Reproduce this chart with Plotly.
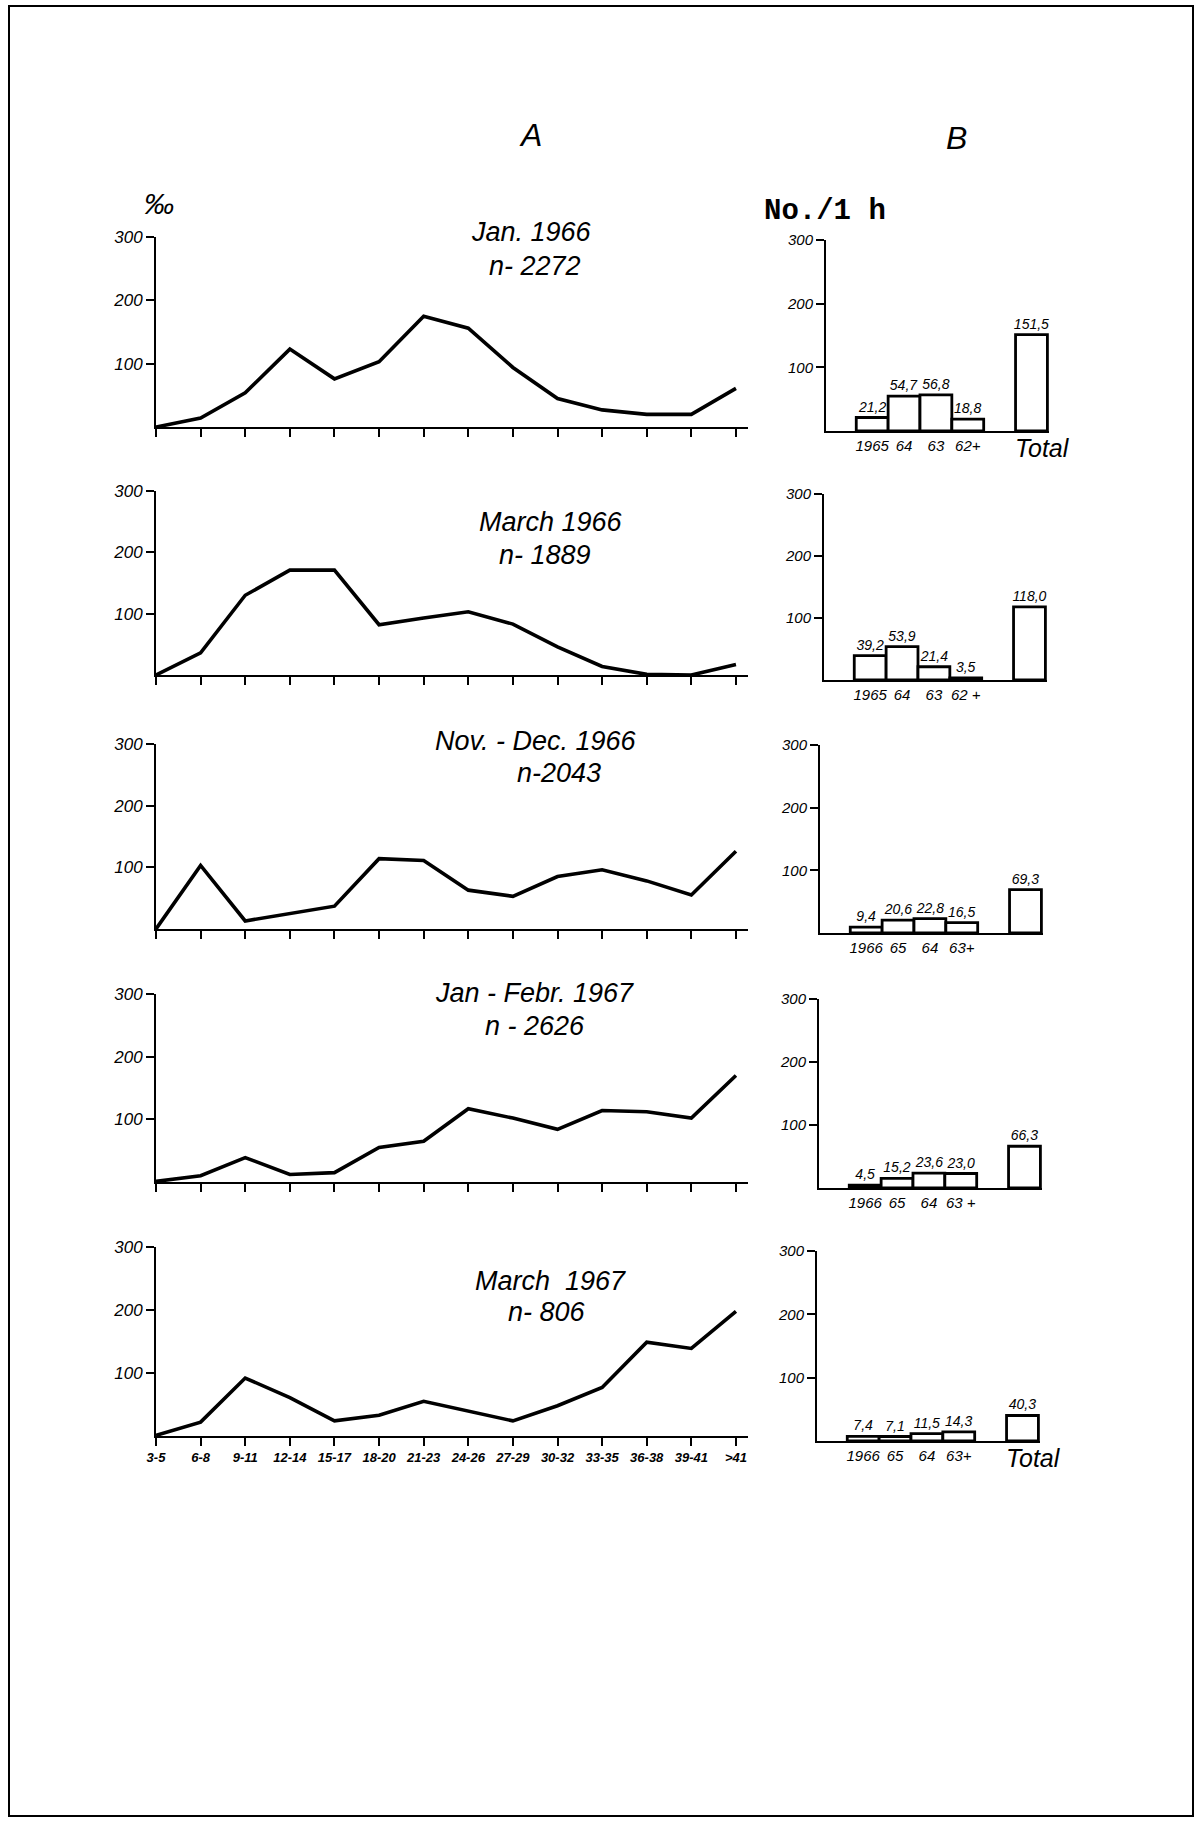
import plotly.graph_objects as go

# ---------------- data ----------------
length_classes = ["3-5", "6-8", "9-11", "12-14", "15-17", "18-20", "21-23",
                  "24-26", "27-29", "30-32", "33-35", "36-38", "39-41", ">41"]

jan_1966 = [0, 14, 54, 123, 76, 103, 175, 156, 94, 45, 27, 20, 20, 61]
march_1966 = [0, 36, 130, 171, 171, 82, 93, 103, 83, 46, 14, 1, 0, 17]
nov_dec_1966 = [0, 103, 13, 25, 37, 114, 111, 63, 53, 85, 96, 78, 55, 126]
jan_feb_1967 = [1, 10, 39, 12, 15, 55, 65, 117, 102, 84, 114, 112, 102, 170]
march_1967 = [1, 22, 92, 61, 24, 33, 55, 39, 24, 48, 77, 149, 139, 198]

series_a = [jan_1966, march_1966, nov_dec_1966, jan_feb_1967, march_1967]
titles_a = ["Jan. 1966", "March 1966", "Nov. - Dec. 1966", "Jan - Febr. 1967", "March&nbsp; 1967"]
n_labels = ["n- 2272", "n- 1889", "n-2043", "n - 2626", "n- 806"]

bars_1 = [21.2, 54.7, 56.8, 18.8, 151.5]
bars_2 = [39.2, 53.9, 21.4, 3.5, 118.0]
bars_3 = [9.4, 20.6, 22.8, 16.5, 69.3]
bars_4 = [4.5, 15.2, 23.6, 23.0, 66.3]
bars_5 = [7.4, 7.1, 11.5, 14.3, 40.3]
series_b = [bars_1, bars_2, bars_3, bars_4, bars_5]

cohort_labels_1 = ["1965", "64", "63", "62+"]
cohort_labels_2 = ["1965", "64", "63", "62 +"]
cohort_labels_3 = ["1966", "65", "64", "63+"]
cohort_labels_4 = ["1966", "65", "64", "63 +"]
cohort_labels_5 = ["1966", "65", "64", "63+"]
cohort_labels = [cohort_labels_1, cohort_labels_2, cohort_labels_3, cohort_labels_4, cohort_labels_5]
total_label_shown = [True, False, False, False, True]

y_ticks = [100, 200, 300]

# ---------------- layout constants ----------------
W, H = 1196, 1825
FONT = "Liberation Sans"
A_X = (156, 748)
A_Y = [(237, 427), (491, 675), (744, 929), (994, 1182), (1247, 1436)]  # (y of 300, y of 0)
B_XL = [826, 824, 820, 819, 817]
B_W = 223
B_Y = [(240, 431), (494, 680), (745, 933), (999, 1188), (1251, 1441)]
TITLE_POS = [((531, 232), (535, 266)), ((551, 522), (545, 555)), ((536, 741), (559, 773)),
             ((534, 993), (535, 1026)), ((550, 1281), (547, 1312))]
bar_pos = [1, 2, 3, 4, 6]


def fx(px):
    return px / W


def fy(py):
    return 1 - py / H


fig = go.Figure()
layout = {}
annotations = []

for i in range(5):
    ka = 2 * i + 1
    kb = 2 * i + 2
    # ----- panel A line -----
    fig.add_trace(go.Scatter(
        x=list(range(len(length_classes))), y=series_a[i], mode="lines",
        line=dict(color="black", width=3.6), cliponaxis=False, showlegend=False,
        xaxis=f"x{ka}", yaxis=f"y{ka}", hoverinfo="skip"))
    last = (i == 4)
    layout[f"xaxis{ka}"] = dict(
        domain=[fx(A_X[0]), fx(A_X[1])], anchor=f"y{ka}", range=[0, 13.27],
        tickmode="array", tickvals=list(range(len(length_classes))),
        ticktext=length_classes, showticklabels=last,
        ticks="outside", ticklen=8, tickwidth=1.5, tickcolor="black",
        showline=True, linecolor="black", linewidth=2, showgrid=False, zeroline=False,
        automargin=False,
        tickfont=dict(family=FONT, size=13, color="black", style="italic", weight="bold"))
    layout[f"yaxis{ka}"] = dict(
        domain=[fy(A_Y[i][1]), fy(A_Y[i][0])], anchor=f"x{ka}", range=[0, 300],
        tickmode="array", tickvals=y_ticks, ticktext=[str(t) for t in y_ticks],
        ticks="outside", ticklen=8, tickwidth=1.5, tickcolor="black",
        showline=True, linecolor="black", linewidth=2, showgrid=False, zeroline=False,
        automargin=False,
        tickfont=dict(family=FONT, size=17, color="black", style="italic"))

    # ----- panel B bars -----
    vals = series_b[i]
    fig.add_trace(go.Bar(
        x=bar_pos, y=vals, width=1,
        marker=dict(color="white", line=dict(color="black", width=2.8)),
        text=[f"{v:.1f}".replace(".", ",") for v in vals], textposition="outside",
        constraintext="none", cliponaxis=False,
        textfont=dict(family=FONT, size=14, color="black", style="italic"),
        showlegend=False, xaxis=f"x{kb}", yaxis=f"y{kb}", hoverinfo="skip"))
    layout[f"xaxis{kb}"] = dict(
        domain=[fx(B_XL[i]), fx(B_XL[i] + B_W)], anchor=f"y{kb}", range=[-0.45, 6.55],
        tickmode="array", tickvals=bar_pos[:4], ticktext=cohort_labels[i], ticks="",
        showline=True, linecolor="black", linewidth=2, showgrid=False, zeroline=False,
        automargin=False,
        tickfont=dict(family=FONT, size=15, color="black", style="italic"))
    layout[f"yaxis{kb}"] = dict(
        domain=[fy(B_Y[i][1]), fy(B_Y[i][0])], anchor=f"x{kb}", range=[0, 300],
        tickmode="array", tickvals=y_ticks, ticktext=[str(t) for t in y_ticks],
        ticks="outside", ticklen=8, tickwidth=1.5, tickcolor="black",
        showline=True, linecolor="black", linewidth=2, showgrid=False, zeroline=False,
        automargin=False,
        tickfont=dict(family=FONT, size=15, color="black", style="italic"))
    if total_label_shown[i]:
        annotations.append(dict(x=6.35, y=0, xref=f"x{kb}", yref=f"y{kb}", text="Total",
                                showarrow=False, xanchor="center", yanchor="top", yshift=-1,
                                font=dict(family=FONT, size=25, color="black", style="italic")))

    # ----- panel titles -----
    (tx1, ty1), (tx2, ty2) = TITLE_POS[i]
    annotations.append(dict(x=fx(tx1), y=fy(ty1), xref="paper", yref="paper",
                            text=titles_a[i], showarrow=False, xanchor="center", yanchor="middle",
                            font=dict(family=FONT, size=27, color="black", style="italic")))
    annotations.append(dict(x=fx(tx2), y=fy(ty2), xref="paper", yref="paper",
                            text=n_labels[i], showarrow=False, xanchor="center", yanchor="middle",
                            font=dict(family=FONT, size=27, color="black", style="italic")))

annotations += [
    dict(x=fx(530), y=fy(115), xref="paper", yref="paper", text="A", showarrow=False,
         font=dict(family=FONT, size=32, color="black", style="italic")),
    dict(x=fx(969), y=fy(118), xref="paper", yref="paper", text="B", showarrow=False,
         font=dict(family=FONT, size=32, color="black", style="italic")),
    dict(x=fx(142), y=fy(185), xref="paper", yref="paper", text="‰", showarrow=False,
         font=dict(family=FONT, size=30, color="black", style="italic")),
    dict(x=fx(888), y=fy(193), xref="paper", yref="paper", text="No./1 h", showarrow=False,
         font=dict(family="Liberation Mono", size=29, color="black", weight="bold")),
]

fig.update_layout(
    width=W, height=H, margin=dict(l=0, r=0, t=0, b=0, autoexpand=False),
    paper_bgcolor="white", plot_bgcolor="white", showlegend=False,
    annotations=annotations, barmode="overlay",
    shapes=[dict(type="rect", xref="paper", yref="paper",
                 x0=fx(9), x1=fx(1193), y0=fy(1816), y1=fy(6),
                 line=dict(color="black", width=2))],
    **layout)

fig.write_html("out.html", config={"displayModeBar": False},
               post_script="document.body.style.margin='0px';")
